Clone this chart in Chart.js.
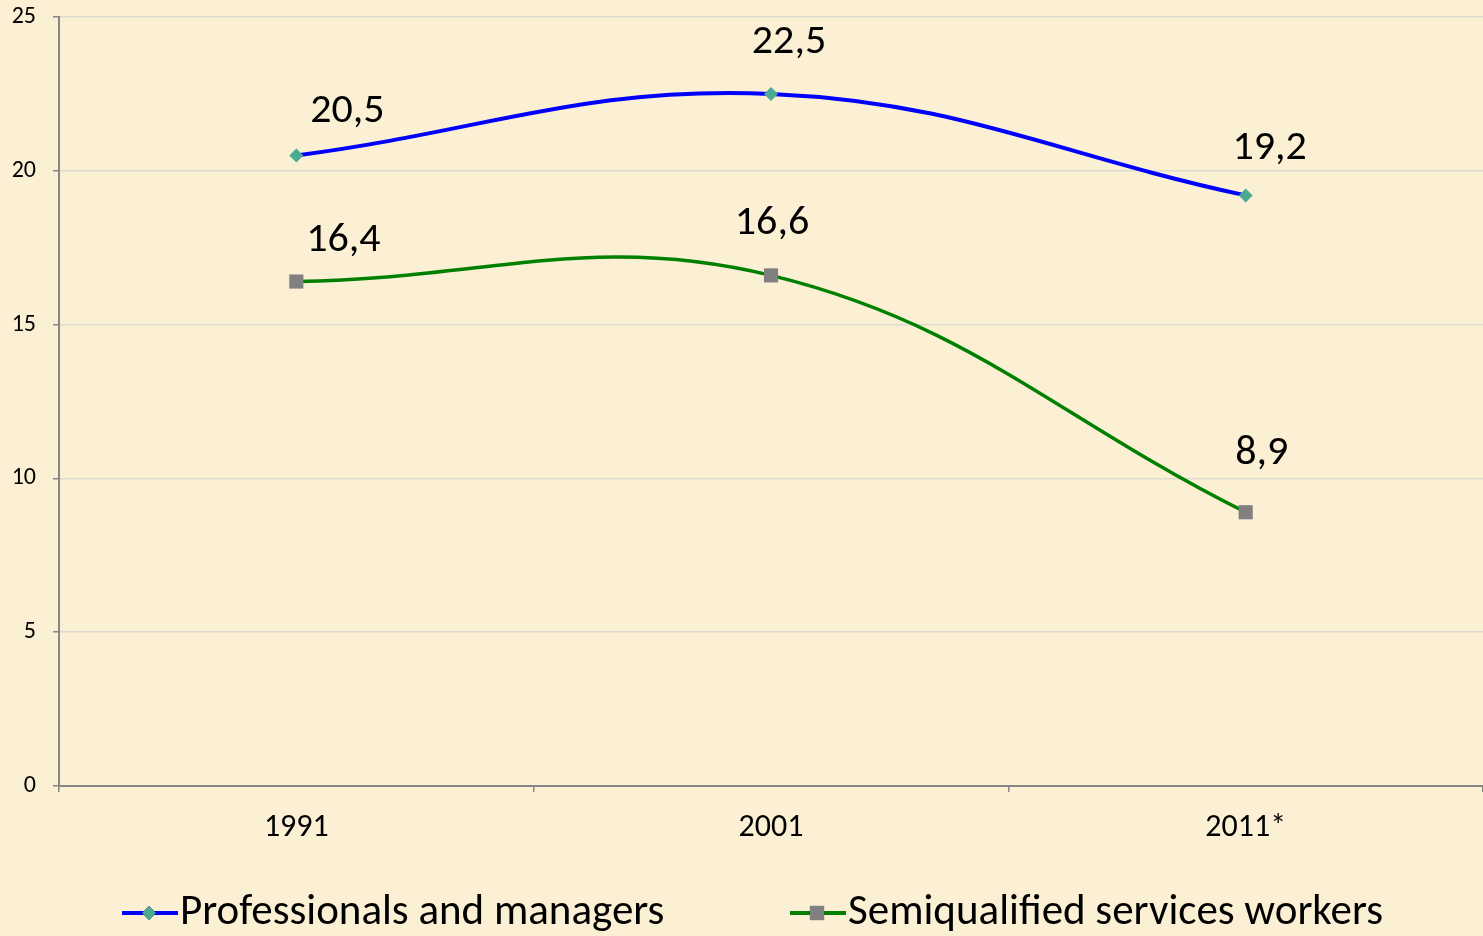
<!DOCTYPE html>
<html>
<head>
<meta charset="utf-8">
<script src="https://cdn.jsdelivr.net/npm/chart.js@4.4.1/dist/chart.umd.min.js"></script>
<style>
    html, body { margin: 0; padding: 0; background: #FBF0D4; }
    #wrap { width: 1483px; height: 936px; }
</style>
</head>
<body>
<div id="wrap"><canvas id="lineChart"></canvas></div>
<script>
const years = ["1991", "2001", "2011*"];
const professionals = [20.5, 22.5, 19.2];
const semiqualified = [16.4, 16.6, 8.9];
const yTicks = [0, 5, 10, 15, 20, 25];

// label nudges (px) relative to each point, as placed in the original
const profNudge = [[51, -44], [18, -51], [24, -47]];
const semiNudge = [[47, -41], [1, -52], [16, -59]];

const FONT = "Carlito, Lato, sans-serif";

function formatComma(v) {
    return v.toFixed(1).replace(".", ",");
}

const dataLabels = {
    id: "dataLabels",
    afterDatasetsDraw(chart) {
        const ctx = chart.ctx;
        ctx.save();
        ctx.font = "42px " + FONT;
        ctx.fillStyle = "#000";
        ctx.textAlign = "center";
        ctx.textBaseline = "middle";
        chart.data.datasets.forEach((ds, i) => {
            const meta = chart.getDatasetMeta(i);
            meta.data.forEach((pt, j) => {
                const n = ds.nudge[j];
                ctx.fillText(formatComma(ds.data[j]), pt.x + n[0], pt.y + n[1]);
            });
        });
        ctx.restore();
    }
};

const bottomLegend = {
    id: "bottomLegend",
    afterDraw(chart) {
        const ctx = chart.ctx;
        const starts = [122, 790];
        const y = 913;
        ctx.save();
        ctx.font = "43px " + FONT;
        ctx.textBaseline = "middle";
        ctx.textAlign = "left";
        chart.data.datasets.forEach((ds, i) => {
            const x = starts[i];
            ctx.strokeStyle = ds.borderColor;
            ctx.lineWidth = 4;
            ctx.beginPath();
            ctx.moveTo(x, y);
            ctx.lineTo(x + 56, y);
            ctx.stroke();
            Chart.helpers.drawPoint(ctx, {
                pointStyle: ds.pointStyle,
                radius: ds.pointRadius,
                borderWidth: 0
            }, x + 27, y);
            ctx.fillStyle = ds.pointBackgroundColor;
            ctx.fill();
            ctx.fillStyle = "#000";
            ctx.fillText(ds.label, x + 58, y);
        });
        ctx.restore();
    }
};

new Chart(document.getElementById("lineChart"), {
    type: "line",
    data: {
        labels: years,
        datasets: [
            {
                label: "Professionals and managers",
                data: professionals,
                nudge: profNudge,
                borderColor: "#0000FF",
                borderWidth: 4,
                tension: 0.4,
                pointStyle: "rectRot",
                pointRadius: 7,
                pointHoverRadius: 7,
                pointBackgroundColor: "#4BAA92",
                pointBorderWidth: 0
            },
            {
                label: "Semiqualified services workers",
                data: semiqualified,
                nudge: semiNudge,
                borderColor: "#008000",
                borderWidth: 3.5,
                tension: 0.4,
                pointStyle: "rect",
                pointRadius: 10,
                pointHoverRadius: 10,
                pointBackgroundColor: "#808080",
                pointBorderWidth: 0
            }
        ]
    },
    options: {
        responsive: true,
        maintainAspectRatio: false,
        animation: false,
        layout: { autoPadding: false, padding: { top: 17, right: -5, left: 0, bottom: 70 } },
        plugins: {
            legend: { display: false },
            tooltip: { enabled: false }
        },
        scales: {
            x: {
                offset: true,
                grid: {
                    offset: true,
                    drawOnChartArea: false,
                    drawTicks: true,
                    tickLength: 6,
                    tickColor: "#868686",
                    lineWidth: 1.5
                },
                border: { color: "#868686", width: 2 },
                ticks: {
                    color: "#000",
                    padding: 17,
                    font: { family: FONT, size: 32 }
                },
                afterFit: s => { s.height = 80; s.paddingLeft = 0; s.paddingRight = 0; }
            },
            y: {
                min: 0,
                max: 25,
                afterBuildTicks: s => { s.ticks = yTicks.map(v => ({ value: v })); },
                grid: {
                    color: "#DEDAD0",
                    lineWidth: 1.5,
                    tickLength: 6,
                    tickColor: "#868686"
                },
                border: { color: "#868686", width: 2 },
                ticks: {
                    color: "#000",
                    padding: 17,
                    font: { family: FONT, size: 24 }
                },
                afterFit: s => { s.width = 59; s.paddingTop = 0; s.paddingBottom = 0; }
            }
        }
    },
    plugins: [dataLabels, bottomLegend]
});
</script>
</body>
</html>
